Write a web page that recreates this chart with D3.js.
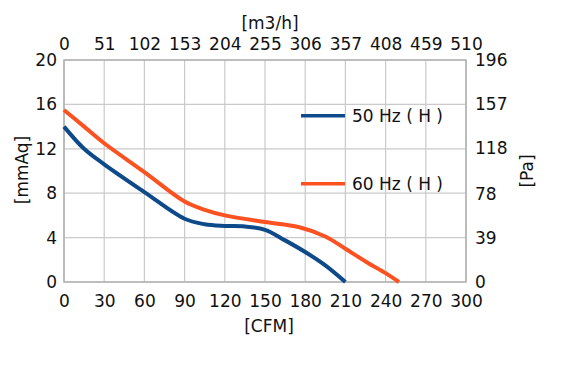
<!DOCTYPE html>
<html>
<head>
<meta charset="utf-8">
<script src="https://cdn.jsdelivr.net/npm/d3@7"></script>
<style>
  body { margin: 0; background: #fff; }
  text { font-family: "DejaVu Sans", sans-serif; fill: #111; }
</style>
</head>
<body>
<div id="chart"></div>
<script>
// fan curve data
var cfm50 = [0, 15, 30, 60, 90, 105, 120, 135, 150, 165, 180, 195, 210]
var mmaq50 = [14.0, 12.0, 10.6, 8.1, 5.7, 5.2, 5.05, 5.0, 4.7, 3.75, 2.7, 1.5, 0]
var cfm60 = [0, 15, 30, 60, 90, 105, 120, 150, 175, 195, 210, 225, 240, 250]
var mmaq60 = [15.5, 14.0, 12.5, 9.9, 7.25, 6.5, 6.0, 5.4, 4.95, 4.1, 3.0, 1.85, 0.8, 0]
var cfmTicks = [0, 30, 60, 90, 120, 150, 180, 210, 240, 270, 300]
var m3hTicks = [0, 51, 102, 153, 204, 255, 306, 357, 408, 459, 510]
var mmaqTicks = [0, 4, 8, 12, 16, 20]
var paTicks = [0, 39, 78, 118, 157, 196]
var seriesNames = ["50 Hz ( H )", "60 Hz ( H )"]
var seriesColors = ["#0e4a8a", "#fc5120"]

var margin = {top: 60, left: 64},
    width = 402, height = 222;

var svg = d3.select("#chart").append("svg")
  .attr("width", 586).attr("height", 376)
  .append("g")
  .attr("transform", "translate(" + margin.left + "," + margin.top + ")");

var x = d3.scaleLinear().domain([0, 300]).range([0, width]);
var x2 = d3.scaleLinear().domain([0, 510]).range([0, width]);
var y = d3.scaleLinear().domain([0, 20]).range([height, 0]);
var y2 = d3.scaleLinear().domain([0, 196]).range([height, 0]);

// grid
svg.selectAll(".vgrid").data(cfmTicks).enter().append("line")
  .attr("x1", function(d) { return x(d); }).attr("x2", function(d) { return x(d); })
  .attr("y1", 0).attr("y2", height)
  .style("stroke", "#cacaca").style("stroke-width", 1.2);
svg.selectAll(".hgrid").data(mmaqTicks).enter().append("line")
  .attr("y1", function(d) { return y(d); }).attr("y2", function(d) { return y(d); })
  .attr("x1", 0).attr("x2", width)
  .style("stroke", "#cacaca").style("stroke-width", 1.2);

// frame
svg.append("rect").attr("width", width).attr("height", height)
  .style("fill", "none").style("stroke", "#b0b0b0").style("stroke-width", 1.5);

function styleAxis(g) {
  g.select(".domain").remove();
  g.selectAll("line").remove();
  g.selectAll("text").style("font-size", "17px").style("font-family", "DejaVu Sans").style("fill", "#111");
}

svg.append("g").attr("transform", "translate(0," + height + ")")
  .call(d3.axisBottom(x).tickValues(cfmTicks).tickSize(0).tickPadding(13))
  .call(styleAxis);
svg.append("g")
  .call(d3.axisTop(x2).tickValues(m3hTicks).tickSize(0).tickPadding(10))
  .call(styleAxis);
svg.append("g")
  .call(d3.axisLeft(y).tickValues(mmaqTicks).tickSize(0).tickPadding(7))
  .call(styleAxis);
svg.append("g").attr("transform", "translate(" + width + ",0)")
  .call(d3.axisRight(y2).tickValues(paTicks).tickSize(0).tickPadding(9))
  .call(styleAxis);

// axis titles
svg.append("text").attr("x", 205).attr("y", height + 50)
  .attr("text-anchor", "middle").style("font-size", "17px").text("[CFM]");
svg.append("text").attr("x", 206).attr("y", -31)
  .attr("text-anchor", "middle").style("font-size", "17px").text("[m3/h]");
svg.append("text").attr("transform", "translate(-36,110) rotate(-90)")
  .attr("text-anchor", "middle").style("font-size", "17px").text("[mmAq]");
svg.append("text").attr("transform", "translate(469,111) rotate(-90)")
  .attr("text-anchor", "middle").style("font-size", "17px").text("[Pa]");

// curves
var line = d3.line()
  .x(function(d) { return x(d[0]); })
  .y(function(d) { return y(d[1]); })
  .curve(d3.curveCatmullRom.alpha(0.5));

var series = [d3.zip(cfm50, mmaq50), d3.zip(cfm60, mmaq60)];
svg.selectAll(".curve").data(series).enter().append("path")
  .attr("d", line)
  .style("fill", "none")
  .style("stroke", function(d, i) { return seriesColors[i]; })
  .style("stroke-width", 4)
  .style("stroke-linecap", "butt");

// legend
var legendY = [y(14.97), y(8.85)];
var legend = svg.selectAll(".legend").data(seriesNames).enter().append("g")
  .attr("transform", function(d, i) { return "translate(237," + legendY[i] + ")"; });
legend.append("line").attr("x1", 0).attr("x2", 44)
  .style("stroke", function(d, i) { return seriesColors[i]; })
  .style("stroke-width", 3.5);
legend.append("text").attr("x", 51).attr("y", 6)
  .style("font-size", "17px").text(function(d) { return d; });
</script>
</body>
</html>
